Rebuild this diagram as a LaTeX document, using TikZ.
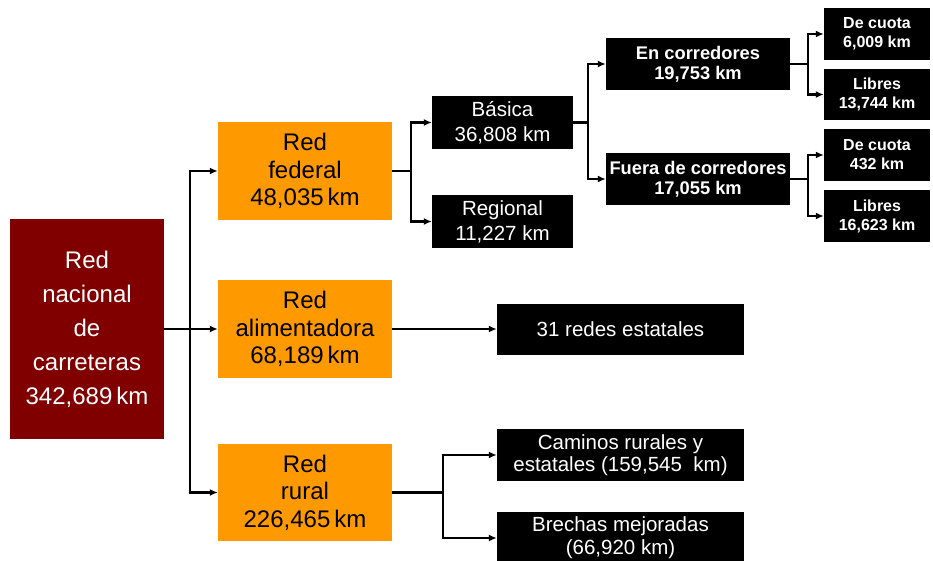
\documentclass[tikz,border=0pt]{standalone}
\usepackage{fontspec}
\setmainfont{Liberation Sans}
\usetikzlibrary{arrows.meta}
\definecolor{maroon}{HTML}{800000}
\definecolor{orng}{HTML}{FF9900}
\tikzset{
  box/.style={rectangle, inner sep=0pt, align=center},
  rootbox/.style={box, fill=maroon, text=white, minimum width=154pt, minimum height=220pt,
    font=\fontsize{24}{34}\selectfont},
  orbox/.style={box, fill=orng, text=black, minimum width=174pt, minimum height=98pt,
    font=\fontsize{24}{27.5}\selectfont},
  blkbox/.style={box, fill=black, text=white},
  regtxt/.style={font=\fontsize{20.5}{25}\selectfont},
  boldtxt/.style={font=\bfseries\fontsize{18.3}{20}\selectfont},
  smalltxt/.style={font=\bfseries\fontsize{16}{19}\selectfont},
  ln/.style={line width=2.4pt, black},
  arr/.style={ln, -{Latex[length=8pt,width=7pt]}},
}
\begin{document}
\begin{tikzpicture}[x=1pt,y=-1pt]
\useasboundingbox (0,0) rectangle (933,561);
\clip (0,0) rectangle (933,561);
\fill[white] (0,0) rectangle (933,561);

% level 0
\node[rootbox] (root) at (87,329) {Red\\nacional\\de\\carreteras\\342,689\,km};
% level 1
\node[orbox] (fed) at (305,171) {Red\\federal\\48,035\,km};
\node[orbox] (ali) at (305,329) {Red\\alimentadora\\68,189\,km};
\node[orbox, minimum height=97pt] (rur) at (305,492.5) {Red\\rural\\226,465\,km};
% level 2
\node[blkbox, regtxt, minimum width=141pt, minimum height=53pt] (bas) at (502.5,122.5) {Básica\\36,808 km};
\node[blkbox, regtxt, minimum width=141pt, minimum height=52pt] (reg) at (502.5,221.5) {Regional\\11,227 km};
\node[blkbox, regtxt, minimum width=247pt, minimum height=51pt] (est) at (620.5,329) {31 redes estatales};
\node[blkbox, font=\fontsize{20.5}{22}\selectfont, minimum width=247pt, minimum height=52pt] (cam) at (620.5,455) {Caminos rurales y\\estatales (159,545 \ km)};
\node[blkbox, font=\fontsize{20.5}{23}\selectfont, minimum width=247pt, minimum height=52pt] (bre) at (620.5,538) {Brechas mejoradas\\(66,920 km)};
% level 3
\node[blkbox, boldtxt, minimum width=184pt, minimum height=52pt] (enc) at (698,64) {En corredores\\19,753 km};
\node[blkbox, boldtxt, minimum width=184pt, minimum height=52pt] (fue) at (698,179) {Fuera de corredores\\17,055 km};
% level 4
\node[blkbox, smalltxt, minimum width=106pt, minimum height=52pt] (dc1) at (877,34) {De cuota\\6,009 km};
\node[blkbox, smalltxt, minimum width=106pt, minimum height=51pt] (li1) at (877,94.5) {Libres\\13,744 km};
\node[blkbox, smalltxt, minimum width=106pt, minimum height=52pt] (dc2) at (877,155) {De cuota\\432 km};
\node[blkbox, smalltxt, minimum width=106pt, minimum height=52pt] (li2) at (877,216) {Libres\\16,623 km};

% junctions
\coordinate (j0) at (190,329);
\coordinate (j1) at (411,171);
\coordinate (j2) at (588,122.5);
\coordinate (j3) at (808,64);
\coordinate (j4) at (808,179);
\coordinate (j5) at (443,492.5);

% connectors
\draw[ln] (root.east) -- (j0);
\draw[arr] (j0) |- (fed.west);
\draw[arr] (j0) -- (ali.west);
\draw[arr] (j0) |- (rur.west);

\draw[ln] (fed.east) -- (j1);
\draw[arr] (j1) |- (bas.west);
\draw[arr] (j1) |- (reg.west);

\draw[ln] (bas.east) -- (j2);
\draw[arr] (j2) |- (enc.west);
\draw[arr] (j2) |- (fue.west);

\draw[ln] (enc.east) -- (j3);
\draw[arr] (j3) |- (dc1.west);
\draw[arr] (j3) |- (li1.west);

\draw[ln] (fue.east) -- (j4);
\draw[arr] (j4) |- (dc2.west);
\draw[arr] (j4) |- (li2.west);

\draw[arr] (ali.east) -- (est.west);

\draw[ln] (rur.east) -- (j5);
\draw[arr] (j5) |- (cam.west);
\draw[arr] (j5) |- (bre.west);
\end{tikzpicture}
\end{document}
